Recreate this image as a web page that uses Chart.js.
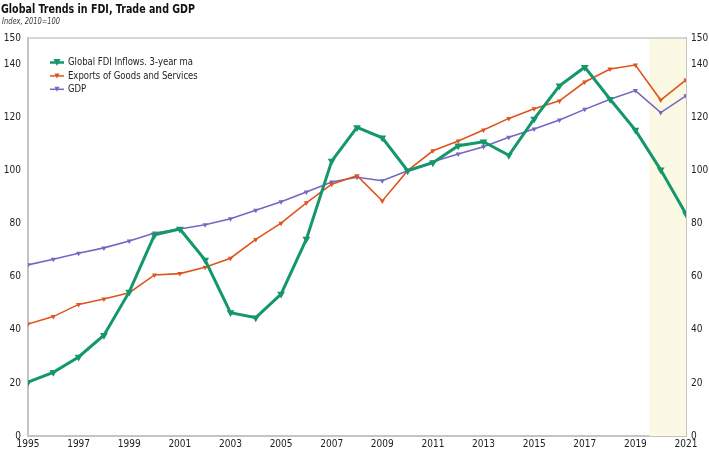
<!DOCTYPE html>
<html>
<head>
<meta charset="utf-8">
<script src="https://cdn.jsdelivr.net/npm/chart.js@4.4.1/dist/chart.umd.min.js"></script>
<style>
  html, body { margin: 0; padding: 0; background: #fff; }
  #wrap { position: relative; width: 709px; height: 450px; }
</style>
</head>
<body>
<div id="wrap"><canvas id="chart" width="709" height="450"></canvas></div>
<script>
const years = [1995, 1996, 1997, 1998, 1999, 2000, 2001, 2002, 2003, 2004, 2005, 2006, 2007,
  2008, 2009, 2010, 2011, 2012, 2013, 2014, 2015, 2016, 2017, 2018, 2019, 2020, 2021];

const fdi = [20.3, 24, 29.8, 38, 54.3, 75.8, 78, 66.3, 46.5, 44.6, 53.5, 74.2, 103.6,
  116.3, 112.4, 100, 103, 109.4, 110.9, 105.8, 119.5, 132, 139, 126.9, 115.3, 100.3, 83.7];

const exportsGS = [42.2, 45, 49.6, 51.6, 54, 60.7, 61.2, 63.6, 67, 74.1, 80.2, 87.9, 94.9,
  98.1, 88.6, 100, 107.5, 111.2, 115.3, 119.7, 123.3, 126.3, 133.4, 138.3, 139.8, 126.6, 134.2];

const gdp = [64.5, 66.6, 68.9, 70.9, 73.5, 76.5, 78, 79.6, 81.9, 85.1, 88.3, 92, 95.7,
  97.5, 96.2, 100, 103.4, 106.3, 109, 112.6, 115.7, 119.1, 123.1, 126.9, 130.2, 121.9, 128.2];

const seriesNames = ["Global FDI Inflows. 3-year ma", "Exports of Goods and Services", "GDP"];
const shadeFrom = 2019.55;

const FONT = "'Liberation Sans Narrow', 'DejaVu Sans Condensed', sans-serif";
const colors = ["#14976b", "#e0541b", "#7566c2"];

function pts(arr) {
  return arr.map((v, i) => ({ x: years[i], y: v }));
}

// squeeze text horizontally so it fits the narrow face of the original
function narrowText(ctx, text, x, y, sx) {
  ctx.save();
  ctx.translate(x, y);
  ctx.scale(sx, 1);
  ctx.fillText(text, 0, 0);
  ctx.restore();
}

// title, shaded projection band, top border and legend
const decor = {
  id: "decor",
  beforeDatasetsDraw(chart) {
    const { ctx, chartArea, scales } = chart;
    const x0 = scales.x.getPixelForValue(shadeFrom);
    ctx.save();
    ctx.fillStyle = "#fbf9e4";
    ctx.fillRect(x0, chartArea.top, chartArea.right - x0, chartArea.bottom - chartArea.top);
    ctx.strokeStyle = "#c9c9c9";
    ctx.lineWidth = 1.5;
    ctx.beginPath();
    ctx.moveTo(chartArea.left, chartArea.top);
    ctx.lineTo(chartArea.right, chartArea.top);
    ctx.stroke();
    ctx.restore();
  },
  afterDraw(chart) {
    const { ctx } = chart;
    ctx.save();
    ctx.fillStyle = "#111";
    ctx.textBaseline = "alphabetic";
    ctx.font = "bold 13px " + FONT;
    const title = "Global Trends in FDI, Trade and GDP";
    narrowText(ctx, title, 1, 13, 194 / ctx.measureText(title).width);
    ctx.font = "italic 8.5px " + FONT;
    ctx.fillStyle = "#333";
    const sub = "Index, 2010=100";
    narrowText(ctx, sub, 2, 24, 58 / ctx.measureText(sub).width);

    // legend
    ctx.font = "11px " + FONT;
    ctx.textBaseline = "middle";
    const sx = 125 / ctx.measureText(seriesNames[0]).width;
    seriesNames.forEach((name, i) => {
      const y = 62.5 + i * 13.4;
      ctx.strokeStyle = colors[i];
      ctx.fillStyle = colors[i];
      ctx.lineWidth = i === 0 ? 2.5 : 1.5;
      ctx.beginPath();
      ctx.moveTo(50, y);
      ctx.lineTo(64, y);
      ctx.stroke();
      const r = i === 0 ? 3.5 : 2.5;
      ctx.beginPath();
      ctx.moveTo(57 - r, y - r);
      ctx.lineTo(57 + r, y - r);
      ctx.lineTo(57, y + r);
      ctx.closePath();
      ctx.fill();
      ctx.fillStyle = "#222";
      narrowText(ctx, name, 68, y, sx);
    });
    ctx.restore();
  }
};

const tickFont = { family: FONT, size: 10 };

new Chart(document.getElementById("chart"), {
  type: "line",
  data: {
    datasets: [
      {
        label: seriesNames[0],
        data: pts(fdi),
        borderColor: colors[0],
        backgroundColor: colors[0],
        borderWidth: 3,
        pointStyle: "triangle",
        rotation: 180,
        pointRadius: 4.5,
        pointBorderWidth: 0,
        tension: 0,
        order: 0
      },
      {
        label: seriesNames[1],
        data: pts(exportsGS),
        borderColor: colors[1],
        backgroundColor: colors[1],
        borderWidth: 1.6,
        pointStyle: "triangle",
        rotation: 180,
        pointRadius: 3,
        pointBorderWidth: 0,
        tension: 0,
        order: 1
      },
      {
        label: seriesNames[2],
        data: pts(gdp),
        borderColor: colors[2],
        backgroundColor: colors[2],
        borderWidth: 1.6,
        pointStyle: "triangle",
        rotation: 180,
        pointRadius: 3,
        pointBorderWidth: 0,
        tension: 0,
        order: 2
      }
    ]
  },
  options: {
    responsive: false,
    animation: false,
    layout: { padding: { top: 38, left: 0, right: 0, bottom: 0 } },
    plugins: {
      legend: { display: false },
      title: { display: false },
      tooltip: { enabled: false }
    },
    scales: {
      x: {
        type: "linear",
        min: 1995,
        max: 2021,
        grid: { display: false, drawTicks: false },
        border: { display: true, color: "#c4c4c4", width: 2 },
        ticks: {
          stepSize: 2,
          padding: 2,
          maxRotation: 0,
          autoSkip: false,
          color: "#222",
          font: tickFont,
          callback: v => String(v)
        },
        afterFit: s => { s.height = 14; }
      },
      y: {
        position: "left",
        min: 0,
        max: 150,
        grid: { display: false, drawTicks: false },
        border: { display: true, color: "#c4c4c4", width: 2 },
        ticks: { stepSize: 20, padding: 7, color: "#222", font: tickFont },
        afterFit: s => { s.width = 28; }
      },
      y2: {
        position: "right",
        min: 0,
        max: 150,
        grid: { display: false, drawTicks: false },
        border: { display: true, color: "#c4c4c4", width: 2 },
        ticks: { stepSize: 20, padding: 5, color: "#222", font: tickFont },
        afterFit: s => { s.width = 23; }
      }
    }
  },
  plugins: [decor]
});
</script>
</body>
</html>
